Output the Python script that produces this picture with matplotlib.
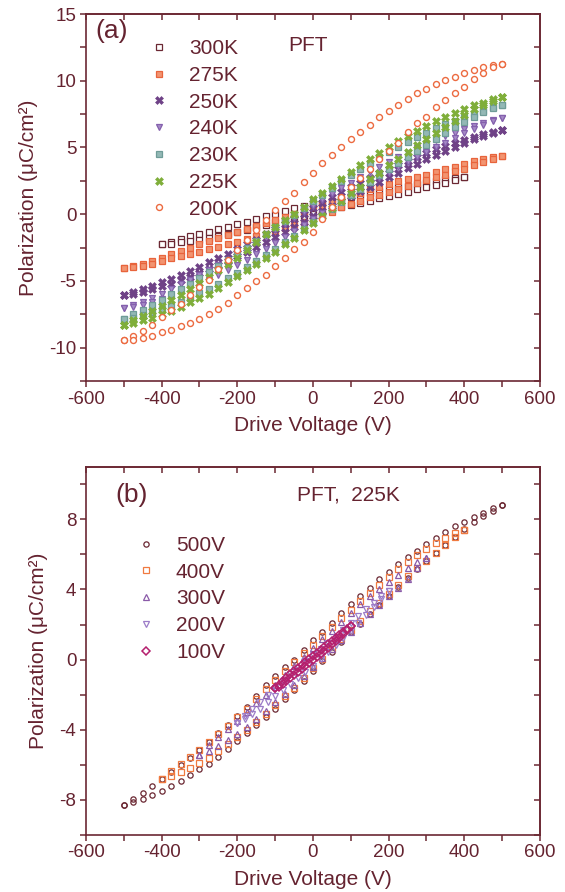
import matplotlib
matplotlib.use("Agg")
import matplotlib.pyplot as plt
from matplotlib.ticker import MultipleLocator

plt.rcParams['font.family'] = ['Liberation Sans', 'DejaVu Sans']
plt.rcParams['axes.unicode_minus'] = False

# ---- data ----
# drive voltage grids: branch going down (+Vmax -> -Vmax), the other branch is the reverse
V500 = [500, 475, 450, 425, 400, 375, 350, 325, 300, 275, 250, 225, 200, 175, 150, 125, 100, 75, 50, 25,
        0, -25, -50, -75, -100, -125, -150, -175, -200, -225, -250, -275, -300, -325, -350, -375, -400,
        -425, -450, -475, -500]
V400 = [400, 375, 350, 325, 300, 275, 250, 225, 200, 175, 150, 125, 100, 75, 50, 25,
        0, -25, -50, -75, -100, -125, -150, -175, -200, -225, -250, -275, -300, -325, -350, -375, -400]
V300 = [300, 275, 250, 225, 200, 175, 150, 125, 100, 75, 50, 25,
        0, -25, -50, -75, -100, -125, -150, -175, -200, -225, -250, -275, -300]
V200 = [200, 180, 160, 140, 120, 100, 80, 60, 40, 20, 0, -20, -40, -60, -80, -100, -120, -140, -160, -180, -200]
V100 = [100, 90, 80, 70, 60, 50, 40, 30, 20, 10, 0, -10, -20, -30, -40, -50, -60, -70, -80, -90, -100]

# (a) temperature series, "up" = descending branch (upper), "lo" = ascending branch (lower)
p300K_up = [2.75, 2.72, 2.6, 2.5, 2.4, 2.25, 2.12, 2.0, 1.85, 1.7, 1.55, 1.4, 1.25, 1.1, 0.95, 0.85,
            0.75, 0.6, 0.45, 0.25, 0.05, -0.15, -0.35, -0.55, -0.75, -0.95, -1.1, -1.3, -1.45, -1.65,
            -1.85, -2.05, -2.25]
p300K_lo = [-2.25, -2.2, -2.1, -2.0, -1.9, -1.8, -1.65, -1.5, -1.3, -1.15, -0.95, -0.8, -0.6, -0.45,
            -0.25, -0.1, 0.05, 0.2, 0.35, 0.55, 0.7, 0.85, 1.0, 1.2, 1.35, 1.5, 1.65, 1.85, 2.0, 2.2,
            2.35, 2.55, 2.75]
p275K_up = [4.35, 4.25, 4.1, 3.95, 3.75, 3.55, 3.35, 3.15, 2.95, 2.8, 2.65, 2.45, 2.25, 2.05, 1.85,
            1.6, 1.4, 1.15, 0.95, 0.7, 0.5, 0.25, 0.05, -0.2, -0.4, -0.65, -0.85, -1.1, -1.3, -1.55,
            -1.75, -2.0, -2.25, -2.5, -2.75, -3.0, -3.25, -3.5, -3.7, -3.9, -4.05]
p275K_lo = [-4.05, -3.95, -3.85, -3.7, -3.5, -3.3, -3.1, -2.95, -2.8, -2.6, -2.45, -2.25, -2.05, -1.85,
            -1.65, -1.45, -1.25, -1.0, -0.8, -0.55, -0.35, -0.05, 0.2, 0.5, 0.75, 1.0, 1.25, 1.45, 1.65,
            1.9, 2.1, 2.3, 2.55, 2.75, 2.95, 3.2, 3.4, 3.65, 3.9, 4.15, 4.35]
p250K_up = [6.3, 6.15, 6.0, 5.8, 5.55, 5.35, 5.1, 4.85, 4.55, 4.3, 4.0, 3.7, 3.4, 3.05, 2.7, 2.35, 2.0,
            1.65, 1.25, 0.85, 0.45, 0.05, -0.35, -0.75, -1.1, -1.5, -1.9, -2.25, -2.6, -2.95, -3.3,
            -3.6, -3.95, -4.25, -4.55, -4.85, -5.1, -5.35, -5.6, -5.85, -6.05]
p250K_lo = [-6.05, -5.95, -5.8, -5.6, -5.4, -5.2, -4.95, -4.7, -4.4, -4.1, -3.8, -3.5, -3.15, -2.8,
            -2.45, -2.1, -1.7, -1.35, -0.95, -0.55, -0.15, 0.25, 0.6, 1.0, 1.35, 1.7, 2.05, 2.4, 2.75,
            3.1, 3.45, 3.75, 4.1, 4.4, 4.7, 5.0, 5.3, 5.6, 5.85, 6.1, 6.3]
p240K_up = [7.2, 7.05, 6.85, 6.6, 6.35, 6.1, 5.85, 5.55, 5.25, 4.95, 4.6, 4.25, 3.9, 3.55, 3.15, 2.75,
            2.35, 1.95, 1.5, 1.05, 0.6, 0.15, -0.3, -0.75, -1.2, -1.65, -2.1, -2.55, -3.0, -3.4, -3.8,
            -4.2, -4.55, -4.9, -5.25, -5.6, -5.95, -6.25, -6.55, -6.8, -7.05]
p240K_lo = [-7.05, -6.95, -6.8, -6.6, -6.35, -6.1, -5.85, -5.55, -5.25, -4.9, -4.55, -4.2, -3.8, -3.4,
            -3.0, -2.6, -2.15, -1.7, -1.25, -0.8, -0.35, 0.1, 0.55, 1.0, 1.45, 1.9, 2.3, 2.7, 3.1, 3.5,
            3.9, 4.3, 4.65, 5.0, 5.35, 5.7, 6.05, 6.4, 6.7, 6.95, 7.2]
p230K_up = [8.15, 8.0, 7.75, 7.5, 7.25, 7.0, 6.75, 6.45, 6.1, 5.75, 5.4, 5.05, 4.65, 4.25, 3.8, 3.35,
            2.9, 2.45, 1.95, 1.45, 0.95, 0.45, -0.05, -0.5, -0.95, -1.45, -2.0, -2.5, -3.0, -3.45, -3.9,
            -4.35, -4.8, -5.2, -5.6, -6.0, -6.4, -6.8, -7.15, -7.5, -7.85]
p230K_lo = [-7.85, -7.75, -7.55, -7.35, -7.1, -6.85, -6.55, -6.25, -5.9, -5.6, -5.2, -4.8, -4.4, -3.95,
            -3.5, -3.05, -2.6, -2.1, -1.6, -1.1, -0.6, -0.1, 0.4, 0.9, 1.4, 1.9, 2.4, 2.9, 3.4, 3.85,
            4.3, 4.75, 5.2, 5.65, 6.1, 6.5, 6.9, 7.3, 7.65, 7.95, 8.15]
p225K_up = [8.8, 8.65, 8.35, 8.15, 7.85, 7.6, 7.3, 6.95, 6.6, 6.2, 5.85, 5.45, 5.0, 4.6, 4.1, 3.65,
            3.15, 2.65, 2.1, 1.6, 1.1, 0.55, 0.0, -0.45, -0.95, -1.45, -2.1, -2.7, -3.25, -3.75, -4.2,
            -4.7, -5.15, -5.6, -6.05, -6.45, -6.85, -7.25, -7.6, -7.95, -8.3]
p225K_lo = [-8.3, -8.15, -7.95, -7.75, -7.5, -7.25, -6.95, -6.6, -6.25, -5.95, -5.55, -5.1, -4.65, -4.2,
            -3.75, -3.3, -2.8, -2.25, -1.75, -1.2, -0.65, -0.1, 0.45, 1.0, 1.55, 2.05, 2.6, 3.1, 3.65,
            4.15, 4.65, 5.15, 5.6, 6.1, 6.55, 7.0, 7.45, 7.85, 8.2, 8.5, 8.8]
p200K_up = [11.25, 11.2, 11.05, 10.8, 10.6, 10.3, 10.05, 9.75, 9.4, 9.05, 8.6, 8.15, 7.7, 7.25, 6.7,
            6.15, 5.6, 5.0, 4.4, 3.8, 3.1, 2.4, 1.6, 1.0, 0.3, -0.45, -1.15, -1.95, -2.7, -3.45, -4.1,
            -4.9, -5.45, -6.05, -6.7, -7.2, -7.7, -8.3, -8.75, -9.1, -9.45]
p200K_lo = [-9.45, -9.4, -9.3, -9.1, -8.85, -8.65, -8.4, -8.15, -7.85, -7.5, -7.1, -6.65, -6.05, -5.55,
            -5.0, -4.55, -3.9, -3.25, -2.6, -2.05, -1.3, -0.35, 0.5, 1.3, 2.0, 2.7, 3.35, 4.1, 4.75,
            5.35, 6.15, 6.85, 7.3, 8.0, 8.58, 9.1, 9.55, 10.1, 10.6, 11.0, 11.25]

# (b) PFT at 225K, different drive amplitudes (500V loop is the 225K loop of (a))
p500V_up, p500V_lo = p225K_up, p225K_lo
p400V_up = [7.4, 7.2, 6.95, 6.65, 6.3, 5.95, 5.55, 5.15, 4.7, 4.25, 3.8, 3.35, 2.85, 2.35, 1.85, 1.35,
            0.85, 0.35, -0.15, -0.65, -1.15, -1.7, -2.25, -2.8, -3.3, -3.8, -4.25, -4.7, -5.15, -5.55,
            -5.95, -6.35, -6.8]
p400V_lo = [-6.8, -6.65, -6.45, -6.2, -5.9, -5.6, -5.25, -4.85, -4.45, -4.0, -3.55, -3.1, -2.6, -2.1,
            -1.6, -1.05, -0.5, 0.05, 0.6, 1.15, 1.7, 2.2, 2.75, 3.25, 3.75, 4.25, 4.75, 5.2, 5.65, 6.1,
            6.55, 7.0, 7.4]
p300V_up = [5.8, 5.55, 5.2, 4.85, 4.45, 4.05, 3.6, 3.15, 2.65, 2.15, 1.65, 1.15, 0.65, 0.15, -0.35,
            -0.9, -1.45, -2.0, -2.5, -3.0, -3.5, -3.95, -4.4, -4.9, -5.45]
p300V_lo = [-5.45, -5.25, -4.95, -4.6, -4.25, -3.85, -3.4, -2.95, -2.45, -1.95, -1.45, -0.95, -0.4,
            0.1, 0.6, 1.1, 1.6, 2.1, 2.6, 3.1, 3.6, 4.1, 4.6, 5.2, 5.8]
p200V_up = [3.9, 3.6, 3.25, 2.9, 2.5, 2.1, 1.7, 1.3, 0.95, 0.6, 0.25, -0.1, -0.5, -0.85, -1.25, -1.65,
            -2.05, -2.45, -2.85, -3.25, -3.6]
p200V_lo = [-3.6, -3.4, -3.1, -2.8, -2.45, -2.1, -1.75, -1.4, -1.05, -0.7, -0.35, 0.05, 0.45, 0.85,
            1.25, 1.65, 2.1, 2.55, 3.0, 3.45, 3.9]
p100V_up = [1.9, 1.75, 1.6, 1.42, 1.25, 1.07, 0.9, 0.72, 0.55, 0.4, 0.22, 0.05, -0.12, -0.3, -0.48,
            -0.65, -0.85, -1.05, -1.25, -1.45, -1.65]
p100V_lo = [-1.65, -1.55, -1.4, -1.25, -1.08, -0.9, -0.72, -0.55, -0.38, -0.2, -0.02, 0.15, 0.33, 0.5,
            0.68, 0.86, 1.05, 1.25, 1.45, 1.68, 1.9]

maroon = '#6b2833'
txt = '#652330'


def loop(ax, v, up, lo, label, **kw):
    # descending branch then ascending branch, markers only
    ax.plot(list(v) + list(v[::-1]), list(up) + list(lo), linestyle='none', label=label, **kw)


def style_axes(ax, ymajor, yminor, ylim):
    ax.set_xlim(-600, 600)
    ax.set_ylim(*ylim)
    ax.xaxis.set_major_locator(MultipleLocator(200))
    ax.xaxis.set_minor_locator(MultipleLocator(100))
    ax.yaxis.set_major_locator(MultipleLocator(ymajor))
    ax.yaxis.set_minor_locator(MultipleLocator(yminor))
    for s in ax.spines.values():
        s.set_color(maroon)
        s.set_linewidth(1.2)
    ax.tick_params(which='both', direction='out', length=4, width=1.1, color=maroon,
                   labelcolor=txt, labelsize=13.5, pad=3)
    # mirrored ticks on top/right point into the plot
    top = ax.secondary_xaxis('top')
    top.xaxis.set_major_locator(MultipleLocator(200))
    top.xaxis.set_minor_locator(MultipleLocator(100))
    top.tick_params(which='both', direction='in', length=4, width=1.1, color=maroon, labeltop=False)
    top.spines['top'].set_color(maroon)
    top.spines['top'].set_linewidth(1.2)
    right = ax.secondary_yaxis('right')
    right.yaxis.set_major_locator(MultipleLocator(ymajor))
    right.yaxis.set_minor_locator(MultipleLocator(yminor))
    right.tick_params(which='both', direction='in', length=4, width=1.1, color=maroon, labelright=False)
    right.spines['right'].set_color(maroon)
    right.spines['right'].set_linewidth(1.2)
    ax.set_xlabel('Drive Voltage (V)', fontsize=15, color=txt, labelpad=6)
    ax.set_ylabel('Polarization (μC/cm²)', fontsize=15, color=txt, labelpad=8)


fig = plt.figure(figsize=(5.65, 8.92), dpi=100)
ax1 = fig.add_axes([0.1522, 0.5729, 0.8035, 0.4114])
ax2 = fig.add_axes([0.1522, 0.0644, 0.8035, 0.4121])

legend_kw = dict(loc='upper left', frameon=False, fontsize=15, handlelength=1.0, handletextpad=0.95,
                 labelspacing=0.37, borderpad=0, borderaxespad=0, numpoints=1, labelcolor=txt)

# ---- panel (a) ----
loop(ax1, V400, p300K_up, p300K_lo, '300K', marker='s', ms=4, mfc='white', mec='#6b2833', mew=0.9)
loop(ax1, V500, p275K_up, p275K_lo, '275K', marker='s', ms=4.2, mfc='#f29470', mec='#e8643c', mew=0.9)
loop(ax1, V500, p250K_up, p250K_lo, '250K', marker='X', ms=5.5, mfc='#6f4287', mec='#6f4287', mew=0.4)
loop(ax1, V500, p240K_up, p240K_lo, '240K', marker='v', ms=5, mfc='#a58ac6', mec='#8460ad', mew=0.9)
loop(ax1, V500, p230K_up, p230K_lo, '230K', marker='s', ms=4.2, mfc='#93b8b5', mec='#6f9c98', mew=0.9)
loop(ax1, V500, p225K_up, p225K_lo, '225K', marker='X', ms=5.5, mfc='#7fae3a', mec='#7fae3a', mew=0.4)
loop(ax1, V500, p200K_up, p200K_lo, '200K', marker='o', ms=4.3, mfc='white', mec='#ec6a40', mew=1.0)
style_axes(ax1, 5, 2.5, (-12.5, 15))
ax1.legend(bbox_to_anchor=(0.138, 0.931), **legend_kw)
ax1.text(0.02, 0.954, '(a)', transform=ax1.transAxes, fontsize=19, color=txt, ha='left', va='center')
ax1.text(0.445, 0.9155, 'PFT', transform=ax1.transAxes, fontsize=15, color=txt, ha='left', va='center')

# ---- panel (b) ----
loop(ax2, V500, p500V_up, p500V_lo, '500V', marker='o', ms=3.8, mfc='none', mec='#6b2833', mew=0.9)
loop(ax2, V400, p400V_up, p400V_lo, '400V', marker='s', ms=4.2, mfc='none', mec='#f07a40', mew=0.9)
loop(ax2, V300, p300V_up, p300V_lo, '300V', marker='^', ms=5, mfc='none', mec='#8a5aa8', mew=0.9)
loop(ax2, V200, p200V_up, p200V_lo, '200V', marker='v', ms=5, mfc='none', mec='#9c7cc8', mew=0.9)
loop(ax2, V100, p100V_up, p100V_lo, '100V', marker='D', ms=4.2, mfc='none', mec='#b5206e', mew=1.1)
style_axes(ax2, 4, 2, (-10, 11))
ax2.legend(bbox_to_anchor=(0.1086, 0.812), **legend_kw)
ax2.text(0.064, 0.924, '(b)', transform=ax2.transAxes, fontsize=19, color=txt, ha='left', va='center')
ax2.text(0.465, 0.924, 'PFT,  225K', transform=ax2.transAxes, fontsize=15, color=txt,
         ha='left', va='center')

fig.savefig('out.png', dpi=100)
